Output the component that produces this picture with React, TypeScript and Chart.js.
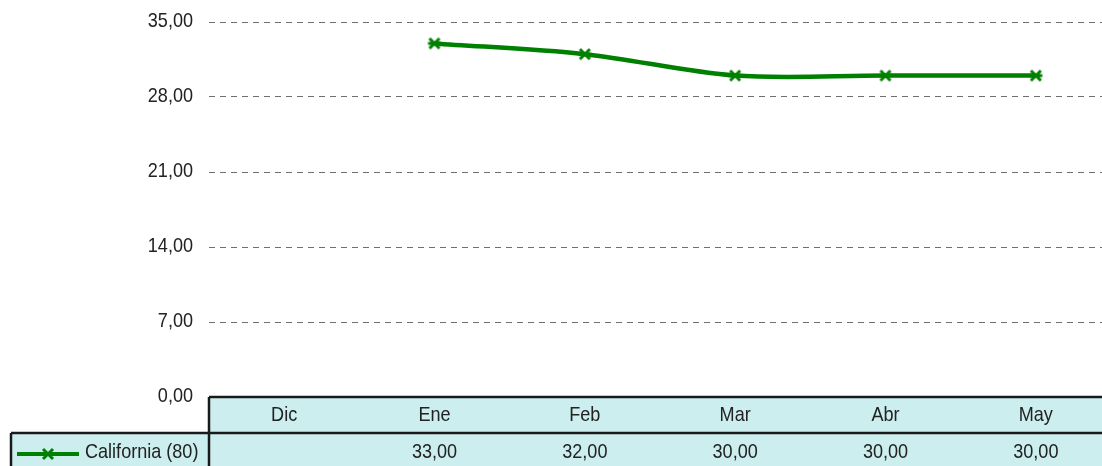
import React, { useEffect, useRef } from "react";
import { Chart, registerables } from "chart.js";

Chart.register(...registerables);

const categories = ["Dic", "Ene", "Feb", "Mar", "Abr", "May"];
const seriesName = "California (80)";
const seriesValues: (number | null)[] = [null, 33, 32, 30, 30, 30];
const yTicks = [0, 7, 14, 21, 28, 35];

const FONT = "'Liberation Sans', Arial, sans-serif";
const GREEN = "#008000";
const CYAN = "#CCEEEE";
const SQUEEZE = 0.86;

const fmt = (v: number) => v.toFixed(2).replace(".", ",");

function makeMarker(): HTMLCanvasElement {
  const c = document.createElement("canvas");
  c.width = 16;
  c.height = 16;
  const g = c.getContext("2d")!;
  g.strokeStyle = GREEN;
  g.lineWidth = 3;
  g.beginPath();
  g.moveTo(3, 3);
  g.lineTo(13, 13);
  g.moveTo(13, 3);
  g.lineTo(3, 13);
  g.moveTo(1.5, 8);
  g.lineTo(14.5, 8);
  g.stroke();
  return c;
}

function squeezedText(ctx: CanvasRenderingContext2D, text: string, x: number, y: number, align: "left" | "center" | "right") {
  ctx.save();
  ctx.translate(x, y);
  ctx.scale(SQUEEZE, 1);
  ctx.textAlign = align;
  ctx.textBaseline = "middle";
  ctx.fillText(text, 0, 0);
  ctx.restore();
}

const tablePlugin = {
  id: "dataTable",
  afterDraw(chart: any) {
    const ctx = chart.ctx as CanvasRenderingContext2D;
    const x = chart.scales.x;
    const y = chart.scales.y;
    const area = chart.chartArea;
    const top = area.bottom;
    const mid = top + 36;
    const bottom = chart.height + 4;
    const left = area.left;
    const right = chart.width + 4;
    const legendLeft = 11;
    ctx.save();

    // y tick labels
    ctx.fillStyle = "#222";
    ctx.font = `21px ${FONT}`;
    y.ticks.forEach((t: any) => {
      squeezedText(ctx, fmt(t.value), 193, y.getPixelForValue(t.value) - 1, "right");
    });

    ctx.fillStyle = CYAN;
    ctx.fillRect(left, top, right - left, bottom - top);
    ctx.fillRect(legendLeft, mid, left - legendLeft, bottom - mid);
    ctx.strokeStyle = "#1a1a1a";
    ctx.lineWidth = 2.5;
    ctx.beginPath();
    ctx.moveTo(left, top);
    ctx.lineTo(right, top);
    ctx.moveTo(legendLeft, mid);
    ctx.lineTo(right, mid);
    ctx.moveTo(left, top);
    ctx.lineTo(left, bottom);
    ctx.moveTo(legendLeft, mid);
    ctx.lineTo(legendLeft, bottom);
    ctx.stroke();

    ctx.fillStyle = "#222";
    categories.forEach((c, i) => {
      const px = x.getPixelForValue(i);
      squeezedText(ctx, c, px, top + 18, "center");
      const v = seriesValues[i];
      if (v !== null && v !== undefined) squeezedText(ctx, fmt(v), px, mid + 19, "center");
    });

    // legend key
    const ly = mid + 21;
    ctx.strokeStyle = GREEN;
    ctx.lineWidth = 4;
    ctx.beginPath();
    ctx.moveTo(17, ly);
    ctx.lineTo(79, ly);
    ctx.stroke();
    const m = makeMarker();
    ctx.drawImage(m, 48 - 8, ly - 8);
    ctx.fillStyle = "#222";
    squeezedText(ctx, seriesName, 85, mid + 19, "left");
    ctx.restore();
  },
};

export default function App() {
  const ref = useRef<HTMLCanvasElement | null>(null);
  useEffect(() => {
    if (!ref.current) return;
    const marker = makeMarker();
    const chart = new Chart(ref.current, {
      type: "line",
      data: {
        labels: categories,
        datasets: [
          {
            label: seriesName,
            data: seriesValues,
            borderColor: GREEN,
            backgroundColor: GREEN,
            borderWidth: 4.5,
            tension: 0.33,
            pointStyle: marker as any,
            pointRadius: 8,
          },
        ],
      },
      options: {
        animation: false,
        responsive: false,
        maintainAspectRatio: false,
        layout: { autoPadding: false, padding: { left: 0, right: 0, top: 22, bottom: 69 } },
        plugins: { legend: { display: false }, tooltip: { enabled: false }, title: { display: false } },
        scales: {
          x: { display: false, offset: true },
          y: {
            min: 0,
            max: 35,
            afterBuildTicks: (s: any) => {
              s.ticks = yTicks.map((v) => ({ value: v }));
            },
            afterFit: (s: any) => {
              s.width = 209;
            },
            border: { display: false, dash: [6, 5] },
            grid: { color: "#6f6f6f", lineWidth: 1, drawTicks: false },
            ticks: { display: false },
          },
        },
      },
      plugins: [tablePlugin],
    });
    return () => chart.destroy();
  }, []);
  return (
    <div style={{ position: "absolute", left: 0, top: 0, width: 1102, height: 466, overflow: "hidden", background: "#fff" }}>
      <div style={{ width: 1111, height: 466 }}>
        <canvas ref={ref} width={1111} height={466} style={{ display: "block", width: 1111, height: 466 }} />
      </div>
    </div>
  );
}
